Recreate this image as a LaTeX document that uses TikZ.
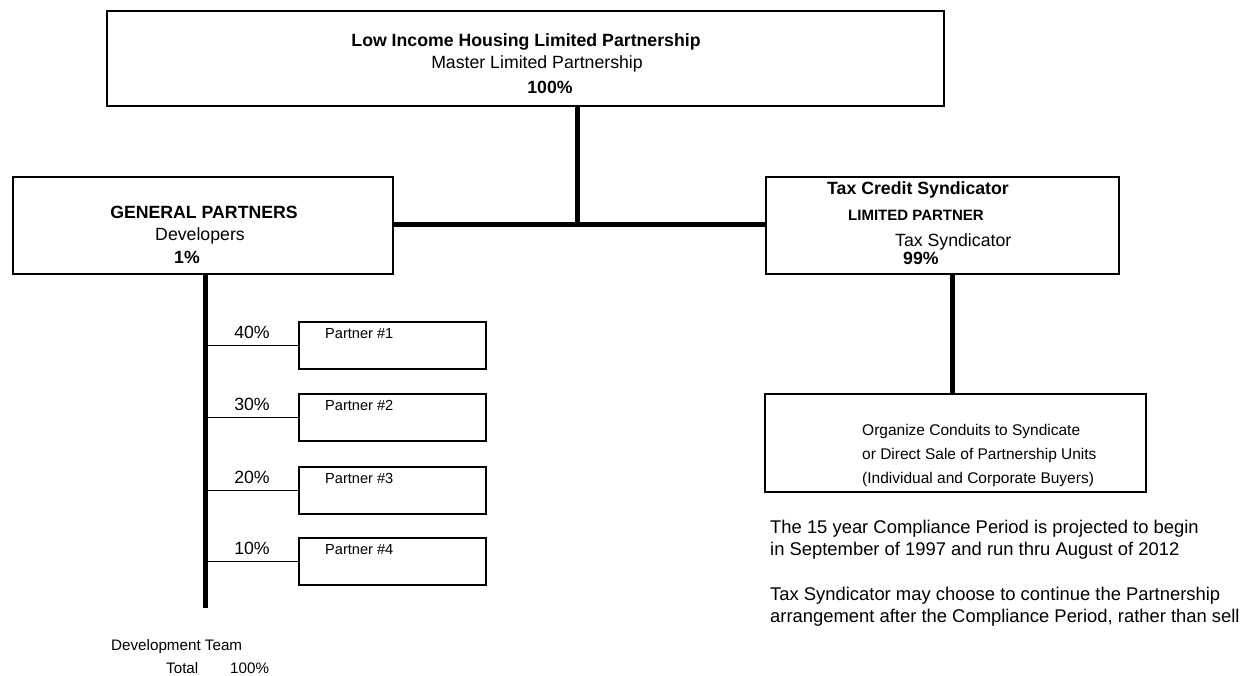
\documentclass[tikz,border=0pt]{standalone}
\usepackage{fontspec}
\setmainfont{Liberation Sans}
\usetikzlibrary{positioning,calc}

\begin{document}
\begin{tikzpicture}[x=1pt,y=-1pt,
  box/.style={draw,line width=2pt,inner sep=0pt,anchor=north west},
  trunk/.style={line width=5pt},
  branch/.style={line width=1.6pt},
  label/.style={inner sep=0pt,font=\fontsize{17.7}{21}\selectfont},
  small label/.style={inner sep=0pt,font=\fontsize{15}{18}\selectfont},
  partner label/.style={inner sep=0pt,anchor=base west,font=\fontsize{14.6}{17}\selectfont},
  note/.style={inner sep=0pt,anchor=base west,align=left,
    font=\fontsize{18.4}{22}\selectfont}]
    \useasboundingbox (0,0) rectangle (1245,675);

    % boxes
    \node[box,minimum width=837pt,minimum height=95pt] (master) at (106,10) {};
    \node[box,minimum width=380pt,minimum height=97pt] (gp) at (12,176) {};
    \node[box,minimum width=353pt,minimum height=97pt] (tcs) at (765,176) {};
    \node[box,minimum width=381pt,minimum height=98pt] (conduit) at (764,393) {};

    % box texts
    \node[label,anchor=base] (mastertitle) at (526,46) {\bfseries Low Income Housing Limited Partnership};
    \node[label,anchor=base] (mastersub) at (537,68) {Master Limited Partnership};
    \node[label,anchor=base] (masterpct) at (550,93) {\bfseries 100\%};

    \node[label,anchor=base] (gptitle) at (204,218) {\bfseries GENERAL PARTNERS};
    \node[label,anchor=base] (gpsub) at (200,240) {Developers};
    \node[label,anchor=base] (gppct) at (187,263) {\bfseries 1\%};

    \node[label,anchor=base west] (tcstitle) at (827,194) {\bfseries Tax Credit Syndicator};
    \node[small label,anchor=base west] (tcsrole) at (848,220) {\bfseries LIMITED PARTNER};
    \node[label,anchor=base west] (tcssub) at (895,246) {Tax Syndicator};
    \node[label,anchor=base west] (tcspct) at (903,264) {\bfseries 99\%};

    % multi-line nodes sit on the baseline of their last line
    \node[inner sep=0pt,anchor=base west,align=left,
      font=\fontsize{15.5}{24}\selectfont] (conduittext) at (862,483)
      {Organize Conduits to Syndicate\\or Direct Sale of Partnership Units\\(Individual and Corporate Buyers)};

    % trunk lines
    \coordinate (hub) at (577,224);
    \coordinate (gpdrop) at (205,608);
    \coordinate (tcsdrop) at (952,300);
    \draw[trunk] (master.south -| hub) -- (hub);
    \draw[trunk] (gp.east |- hub) -- (tcs.west |- hub);
    \draw[trunk] (gp.south -| gpdrop) -- (gpdrop);
    \draw[trunk] (tcs.south -| tcsdrop) -- (conduit.north -| tcsdrop);

    % partners
    \foreach \i/\y/\p in {1/321/40,2/393/30,3/466/20,4/537/10}{
      \node[box,line width=1.6pt,minimum width=187pt,minimum height=47pt] (partner\i) at (298,\y) {};
      \node[label,anchor=base] (pct\i) at (252,\y+17) {\p\%};
      \node[partner label] (name\i) at (325,\y+17) {Partner \#\i};
      \draw[branch] (gpdrop |- partner\i.west) -- (partner\i.west);
    }

    % notes
    \node[note] (period) at (770,555)
      {The 15 year Compliance Period is projected to begin\\in September of 1997 and run thru August of 2012};
    \node[note] (continue) at (770,622)
      {Tax Syndicator may choose to continue the Partnership\\arrangement after the Compliance Period, rather than sell};

    \node[inner sep=0pt,anchor=base west,font=\fontsize{15.2}{18}\selectfont] (devteam) at (111,650) {Development Team};
    \node[inner sep=0pt,anchor=base west,font=\fontsize{15.2}{18}\selectfont] (total) at (166,673) {Total};
    \node[inner sep=0pt,anchor=base west,font=\fontsize{15.2}{18}\selectfont] (totalpct) at (230,673) {100\%};
\end{tikzpicture}
\end{document}
